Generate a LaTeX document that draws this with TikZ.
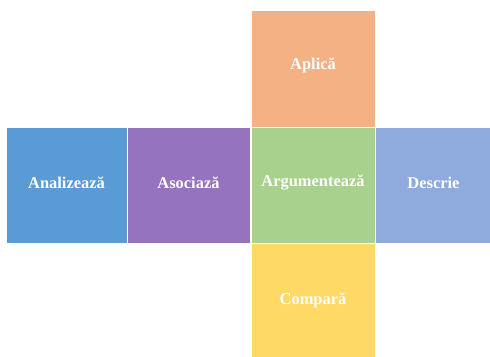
\documentclass[tikz,border=0pt]{standalone}
\usepackage{fontspec}
\setmainfont{Liberation Serif}
\definecolor{cblue}{HTML}{5B9BD5}
\definecolor{cpurple}{HTML}{9673BE}
\definecolor{cgreen}{HTML}{A9D18E}
\definecolor{cperi}{HTML}{8FAADC}
\definecolor{corange}{HTML}{F4B183}
\definecolor{cyellow}{HTML}{FFD966}
\begin{document}
\begin{tikzpicture}[x=1bp,y=-1bp,
  cell/.style={draw=white,line width=1bp,anchor=north west},
  lbl/.style={text=white,font=\bfseries\fontsize{16.5}{19}\selectfont,inner sep=0pt}]
\useasboundingbox (0,0) rectangle (490,356);
\node[cell,fill=cblue,minimum width=121bp,minimum height=116bp] (an) at (5.5,127) {};
\node[cell,fill=cpurple,minimum width=123bp,minimum height=116bp] (as) at (126.5,127) {};
\node[cell,fill=cgreen,minimum width=124bp,minimum height=116bp] (ar) at (250.5,127) {};
\node[cell,fill=cperi,minimum width=117bp,minimum height=116bp] (de) at (374.5,127) {};
\node[cell,fill=corange,minimum width=124bp,minimum height=117bp] (ap) at (250.5,10) {};
\node[cell,fill=cyellow,minimum width=124bp,minimum height=114bp] (co) at (250.5,243) {};
\node[lbl] (tan) at ([yshift=3bp]an.center) {Analizează};
\node[lbl] (tas) at ([yshift=3bp]as.center) {Asociază};
\node[lbl] (tar) at ([yshift=3bp]ar.center) {Argumentează};
\node[lbl] (tde) at ([yshift=3bp]de.center) {Descrie};
\node[lbl] (tap) at ([yshift=4bp]ap.center) {Aplică};
\node[lbl] (tco) at ([yshift=0bp]co.center) {Compară};
\end{tikzpicture}
\end{document}
